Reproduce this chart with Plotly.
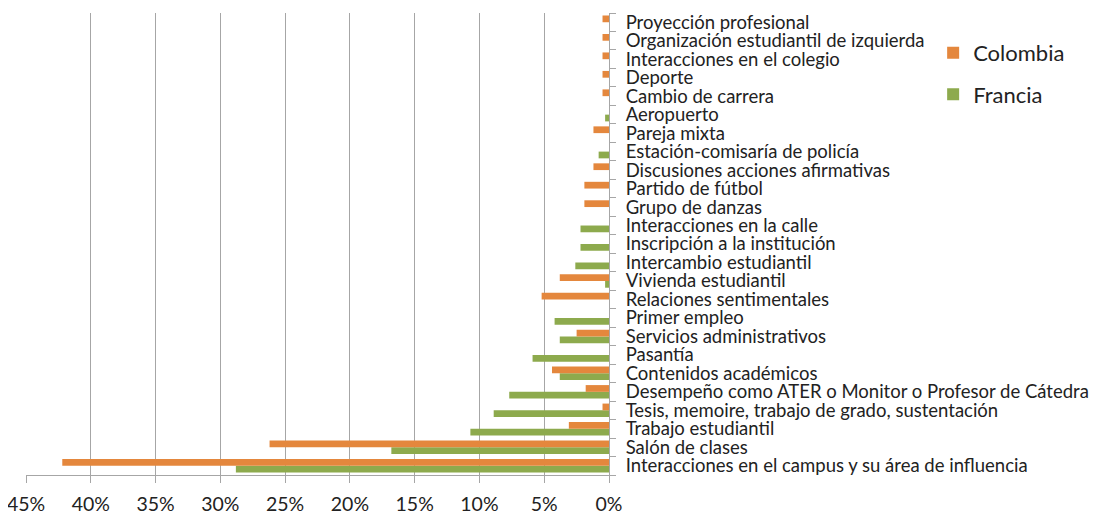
import plotly.graph_objects as go

categories = [
    "Interacciones en el campus y su área de influencia",
    "Salón de clases",
    "Trabajo estudiantil",
    "Tesis, memoire, trabajo de grado, sustentación",
    "Desempeño como ATER o Monitor o Profesor de Cátedra",
    "Contenidos académicos",
    "Pasantía",
    "Servicios administrativos",
    "Primer empleo",
    "Relaciones sentimentales",
    "Vivienda estudiantil",
    "Intercambio estudiantil",
    "Inscripción a la institución",
    "Interacciones en la calle",
    "Grupo de danzas",
    "Partido de fútbol",
    "Discusiones acciones afirmativas",
    "Estación-comisaría de policía",
    "Pareja mixta",
    "Aeropuerto",
    "Cambio de carrera",
    "Deporte",
    "Interacciones en el colegio",
    "Organización estudiantil de izquierda",
    "Proyección profesional",
]

colombia = [42.2, 26.2, 3.1, 0.5, 1.8, 4.4, 0, 2.5, 0, 5.2, 3.8, 0, 0, 0, 1.9, 1.9,
            1.2, 0, 1.2, 0, 0.5, 0.5, 0.5, 0.5, 0.5]
francia = [28.8, 16.8, 10.7, 8.9, 7.7, 3.8, 5.9, 3.8, 4.2, 0, 0.3, 2.6, 2.2, 2.2, 0, 0,
           0, 0.8, 0, 0.3, 0, 0, 0, 0, 0]

x_ticks = [45, 40, 35, 30, 25, 20, 15, 10, 5, 0]
x_tick_labels = ["45%", "40%", "35%", "30%", "25%", "20%", "15%", "10%", "5%", "0%"]

ORANGE = "#E4873D"
GREEN = "#8DAA4D"
FONT = "Lato"

fig = go.Figure()
fig.add_trace(go.Bar(
    y=categories, x=francia, orientation="h", name="Francia",
    marker=dict(color=GREEN, line=dict(width=0)), legendrank=2, legendgroup="fr",
))
fig.add_trace(go.Bar(
    y=categories, x=colombia, orientation="h", name="Colombia",
    marker=dict(color=ORANGE, line=dict(width=0)), legendrank=1, legendgroup="co",
))

fig.update_layout(
    width=1082, height=507,
    margin=dict(l=18, r=481, t=5, b=40),
    barmode="group", bargap=0.27, bargroupgap=0,
    plot_bgcolor="white", paper_bgcolor="white",
    font=dict(family=FONT, size=18.5, color="#222222"),
    legend=dict(
        x=1.556, xanchor="left", y=0.959, yanchor="top",
        font=dict(family=FONT, size=22, color="#222222"),
        tracegroupgap=10, traceorder="grouped",
        bgcolor="rgba(0,0,0,0)",
    ),
    xaxis=dict(
        range=[45, 0], tickmode="array", tickvals=x_ticks, ticktext=x_tick_labels,
        showgrid=True, gridcolor="#A6A6A6", gridwidth=1,
        showline=True, linecolor="#A6A6A6", linewidth=1,
        ticks="outside", ticklen=7, tickcolor="#A6A6A6",
        zeroline=False, automargin=False, ticklabeloverflow="allow",
        ticklabelstandoff=5,
        tickfont=dict(size=19.5, family=FONT, color="#222222"),
    ),
    yaxis=dict(
        side="right", type="category", categoryorder="array", categoryarray=categories,
        tickmode="array", tickvals=categories, ticktext=categories,
        showline=True, linecolor="#A6A6A6", linewidth=1,
        ticks="outside", ticklen=6, tickcolor="#A6A6A6", tickson="boundaries",
        showgrid=False, zeroline=False, automargin=False, ticklabeloverflow="allow",
        tickfont=dict(size=18.5, family=FONT, color="#222222"),
        ticklabelstandoff=12,
    ),
)

fig.write_html("out.html")
